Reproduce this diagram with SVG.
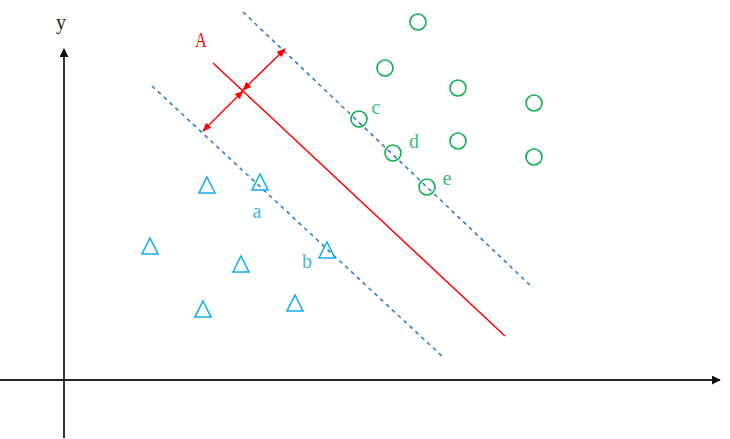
<svg xmlns="http://www.w3.org/2000/svg" width="730" height="439" viewBox="0 0 730 439">
<style>
.ax{stroke:#222;stroke-width:1.8;fill:none}
.dash{stroke:#2f7fd0;stroke-width:1.6;stroke-dasharray:4,4;fill:none}
.hyp{stroke:#ff0000;stroke-width:1.5;fill:none}
.arr{stroke:#ff0000;stroke-width:1.5;fill:none;marker-start:url(#ra);marker-end:url(#ra)}
.circ{fill:none;stroke:#12b050;stroke-width:1.6}
.tri{fill:none;stroke:#12b0f0;stroke-width:1.6}
.lbl{font-family:"Liberation Serif",serif;font-size:20px}
.lg{fill:#3cc070}
.lb{fill:#40b8f0}
</style>
<defs>
<marker id="ka2" viewBox="0 0 10 10" refX="9" refY="5" markerWidth="9" markerHeight="9" orient="auto" markerUnits="userSpaceOnUse"><path d="M0,0 L10,5 L0,10 z" fill="#111"/></marker>
<marker id="ra" viewBox="0 0 10 10" refX="9" refY="5" markerWidth="9" markerHeight="9" orient="auto-start-reverse" markerUnits="userSpaceOnUse"><path d="M0,1 L10,5 L0,9 z" fill="#ff0000"/></marker>
</defs>
<g id="axes">
<line class="ax" x1="64" y1="438" x2="64" y2="49" marker-end="url(#ka2)"/>
<line class="ax" x1="0" y1="380" x2="720" y2="380" marker-end="url(#ka2)"/>
<text x="61" y="29" class="lbl" font-size="18" text-anchor="middle" fill="#222">y</text>
</g>
<g id="connectors">
<line class="dash" x1="243" y1="12" x2="533" y2="288"/>
<line class="dash" x1="152" y1="86" x2="444" y2="358"/>
<line class="hyp" x1="213" y1="63" x2="505" y2="336"/>
<line class="arr" x1="243" y1="90" x2="285" y2="49"/>
<line class="arr" x1="243" y1="91" x2="203" y2="131"/>
</g>
<g id="label-A"><text x="201" y="47" class="lbl" font-size="20" text-anchor="middle" fill="#ff0000" transform="translate(201 47) scale(0.8 1) translate(-201 -47)">A</text></g>
<g id="circles">
<circle class="circ" cx="418" cy="22" r="8"/>
<circle class="circ" cx="385" cy="68" r="8"/>
<circle class="circ" cx="458" cy="88" r="8"/>
<circle class="circ" cx="534" cy="103" r="8"/>
<circle class="circ" cx="359" cy="119" r="8"/>
<circle class="circ" cx="393" cy="153" r="8"/>
<circle class="circ" cx="458" cy="141" r="8"/>
<circle class="circ" cx="534" cy="157" r="8"/>
<circle class="circ" cx="427" cy="187" r="8"/>
</g>
<g id="triangles">
<path class="tri" d="M207,177 L215,193 L199,193 Z"/>
<path class="tri" d="M260,174 L268,190 L252,190 Z"/>
<path class="tri" d="M150,238 L158,254 L142,254 Z"/>
<path class="tri" d="M241,256 L249,272 L233,272 Z"/>
<path class="tri" d="M327,242 L335,258 L319,258 Z"/>
<path class="tri" d="M203,301 L211,317 L195,317 Z"/>
<path class="tri" d="M295,295 L303,311 L287,311 Z"/>
</g>
<g id="labels">
<text x="257" y="218" class="lbl lb" text-anchor="middle">a</text>
<text x="307" y="268" class="lbl lb" text-anchor="middle">b</text>
<text x="376" y="114" class="lbl lg" text-anchor="middle">c</text>
<text x="414" y="148" class="lbl lg" text-anchor="middle">d</text>
<text x="447" y="185" class="lbl lg" text-anchor="middle">e</text>
</g>
</svg>
